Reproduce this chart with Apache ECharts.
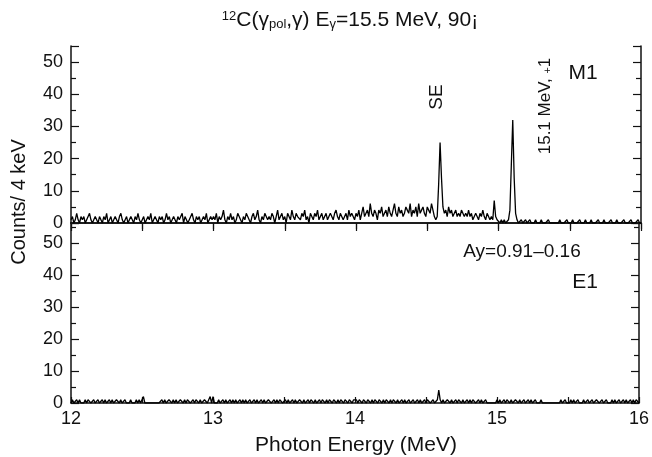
<!DOCTYPE html>
<html><head><meta charset="utf-8">
<script src="https://cdn.jsdelivr.net/npm/echarts@6/dist/echarts.min.js"></script>
<style>html,body{margin:0;padding:0;background:#fff}#c{width:652px;height:457px}</style>
</head><body><div id="c"></div>
<script>
// Spectrum bins: energy = binStart + i*binWidth (MeV)
const binStart = 12.0;
const binWidth = 0.01;
const xTicks = [12, 13, 14, 15, 16];

// Upper panel (M1) counts per bin
const countsM1 = [
  1,2,0,1,3,1,0,2,1,2,0,1,2,3,1,0,1,2,1,0,
  2,1,0,2,1,3,0,1,2,0,1,2,1,0,2,3,1,0,1,2,
  0,1,2,1,0,2,1,3,1,0,1,2,0,1,2,1,3,0,1,2,
  1,0,2,1,2,0,1,3,1,2,0,1,2,1,0,2,1,1,3,0,
  2,1,0,1,2,3,1,0,2,1,2,0,1,2,1,3,0,1,2,1,
  2,1,3,0,2,1,2,4,1,0,2,1,3,1,2,0,1,3,2,1,
  0,2,1,3,2,1,0,2,3,1,2,4,1,0,2,1,3,2,1,2,
  1,3,2,0,2,4,1,2,3,1,2,0,3,2,1,4,2,1,3,2,
  2,1,3,2,4,1,2,0,3,2,1,3,2,4,1,2,3,1,2,3,
  1,2,3,2,1,3,4,2,1,3,2,1,2,3,1,4,2,3,2,1,
  3,2,4,1,3,5,2,3,4,2,6,3,2,4,3,1,4,3,5,2,
  3,4,2,5,3,2,4,6,3,2,5,3,4,2,3,5,4,3,6,2,
  4,3,5,2,6,3,4,5,3,2,5,4,3,6,4,2,1,2,12,25,
  14,5,3,4,2,5,3,4,2,3,4,2,3,2,4,3,2,3,2,4,
  2,3,1,2,3,2,1,3,2,4,2,1,3,2,1,2,1,7,2,1,
  1,0,1,0,1,0,0,1,4,18,32,14,3,1,0,0,1,0,0,1,
  0,0,1,0,0,0,1,0,0,0,1,0,0,0,0,1,0,0,0,0,
  0,0,0,1,0,0,0,0,1,0,0,0,1,0,0,0,0,1,0,0,
  0,1,0,0,0,1,0,0,0,0,1,0,0,0,1,0,0,0,0,1,
  0,0,0,1,0,0,0,0,1,0,0,0,0,1,0,0,0,0,1,0,
  0
];

// Lower panel (E1) counts per bin
const countsE1 = [
  0,1,0,0,1,0,1,0,0,0,1,0,1,1,0,0,1,0,0,1,
  0,0,1,0,1,0,0,1,0,1,0,0,1,1,0,1,0,0,1,0,
  0,0,1,0,0,0,1,0,1,0,0,2,0,0,0,0,0,0,0,0,
  0,0,0,0,1,0,1,0,0,1,1,0,1,0,1,0,0,1,1,0,
  1,0,1,1,0,0,1,0,1,1,0,1,0,0,1,1,0,1,2,0,
  2,0,0,0,1,0,0,1,0,1,0,0,1,0,1,0,1,0,0,1,
  0,1,0,1,0,0,1,0,0,1,0,1,0,0,1,0,1,0,0,1,
  1,0,0,1,0,1,0,1,1,0,0,1,0,1,0,0,1,0,1,0,
  0,1,1,0,1,0,0,1,0,1,1,0,1,0,0,1,0,1,1,0,
  1,0,1,1,0,1,1,0,1,0,1,1,0,1,1,0,1,1,0,1,
  1,1,0,1,1,0,1,1,0,1,1,0,1,0,1,1,0,1,1,0,
  1,0,1,1,0,1,0,1,1,0,1,0,0,1,0,1,0,0,1,0,
  0,1,0,0,1,0,1,0,0,1,0,1,1,0,0,1,0,0,1,4,
  1,0,1,0,0,1,1,0,1,0,0,1,0,1,1,0,1,0,0,1,
  0,1,0,1,1,0,0,1,0,1,0,0,1,0,0,0,0,0,0,0,
  1,0,1,0,0,1,0,1,1,0,1,0,0,1,1,0,1,0,0,1,
  0,0,1,0,1,0,0,1,0,0,0,1,0,0,0,0,0,0,0,0,
  0,0,0,0,0,1,0,0,1,0,0,0,1,0,1,0,0,1,0,0,
  0,1,0,0,1,0,0,1,0,0,1,1,0,0,1,0,0,1,0,0,
  0,1,0,1,0,0,1,0,0,1,0,1,0,0,1,0,1,0,1,1,
  0
];

const titleText = '{sup|12}C(γ{sub|pol},γ) E{sub|γ}=15.5 MeV, 90¡';
const yName = 'Counts/ 4 keV';
const xName = 'Photon Energy (MeV)';

const FONT = '"Liberation Sans", Arial, Helvetica, sans-serif';
const INK = '#111';

function toPairs(arr){ return arr.map((v,i)=>[+(binStart + i*binWidth).toFixed(3), v]); }

const axisLine = {show:true, lineStyle:{color:INK, width:1.5}};
function xAx(grid, pos, inside, len, labels){
  return {type:'value', gridIndex:grid, position:pos, min:12, max:16, interval:0.5,
    axisLine, splitLine:{show:false},
    axisTick:{show:true, inside:inside, length:len, lineStyle:{color:INK, width:1.2}},
    axisLabel: labels ? {show:true, fontSize:18, color:INK, fontFamily:FONT, margin:7,
      formatter:v=> xTicks.includes(v) ? String(v) : ''} : {show:false}};
}
function yAx(grid, pos, max, labels){
  return {type:'value', gridIndex:grid, position:pos, min:0, max:max, interval:10,
    axisLine, splitLine:{show:false},
    axisTick:{show:true, inside:true, length:8, lineStyle:{color:INK, width:1.2}},
    minorTick:{show:true, splitNumber:2, length:5, lineStyle:{color:INK, width:1.2}},
    axisLabel: labels ? {show:true, fontSize:18, color:INK, fontFamily:FONT, margin:8, showMaxLabel:false} : {show:false}};
}

const chart = echarts.init(document.getElementById('c'), null, {renderer:'canvas'});
chart.setOption({
  animation:false,
  backgroundColor:'#fff',
  grid:[
    {left:71, right:11, top:46, height:177},
    {left:71, right:11, top:223, height:180}
  ],
  xAxis:[
    xAx(0,'bottom',false,6,false),
    xAx(0,'top',true,8,false),
    xAx(1,'bottom',true,6,true)
  ],
  yAxis:[
    yAx(0,'left',55,true),
    yAx(0,'right',55,false),
    yAx(1,'left',56.25,true),
    yAx(1,'right',56.25,false)
  ],
  series:[
    {type:'line', xAxisIndex:0, yAxisIndex:0, data:toPairs(countsM1), showSymbol:false, symbol:'none',
      lineStyle:{color:'#000', width:1.3}, z:5},
    {type:'line', xAxisIndex:2, yAxisIndex:2, data:toPairs(countsE1), showSymbol:false, symbol:'none',
      lineStyle:{color:'#000', width:1.3}, z:5}
  ],
  graphic:[
    {type:'text', x:350, y:20, style:{text:titleText, fill:INK, font:'21px '+FONT, align:'center', verticalAlign:'middle',
      rich:{sup:{fontSize:13, verticalAlign:'top', fontFamily:FONT, fill:INK}, sub:{fontSize:13, verticalAlign:'bottom', fontFamily:FONT, fill:INK}}}},
    {type:'text', x:19, y:202, rotation:Math.PI/2, style:{text:yName, fill:INK, font:'20px '+FONT, align:'center', verticalAlign:'middle'}},
    {type:'text', x:356, y:445, style:{text:xName, fill:INK, font:'21px '+FONT, align:'center', verticalAlign:'middle'}},
    {type:'text', x:437, y:97, rotation:Math.PI/2, style:{text:'SE', fill:INK, font:'19px '+FONT, align:'center', verticalAlign:'middle'}},
    {type:'text', x:545, y:106, rotation:Math.PI/2, style:{text:'15.1 MeV, {sup|+}1', fill:INK, font:'17px '+FONT, align:'center', verticalAlign:'middle',
      rich:{sup:{fontSize:11, verticalAlign:'bottom', fontFamily:FONT, fill:INK}}}},
    {type:'text', x:583, y:73, style:{text:'M1', fill:INK, font:'21px '+FONT, align:'center', verticalAlign:'middle'}},
    {type:'text', x:522, y:252, style:{text:'Ay=0.91–0.16', fill:INK, font:'19px '+FONT, align:'center', verticalAlign:'middle'}},
    {type:'text', x:585, y:282, style:{text:'E1', fill:INK, font:'21px '+FONT, align:'center', verticalAlign:'middle'}}
  ]
});
</script>
</body></html>
